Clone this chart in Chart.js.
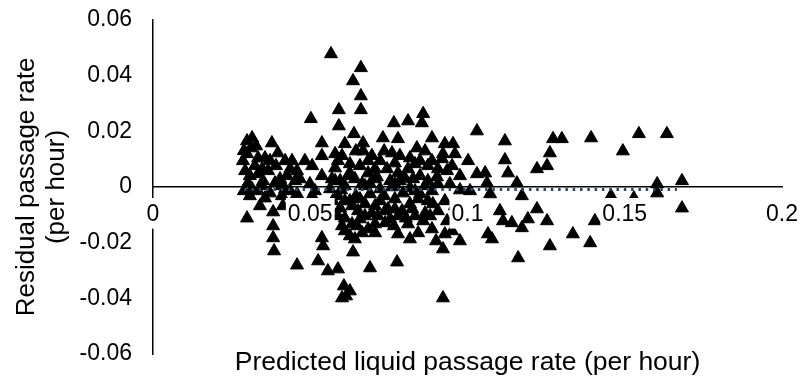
<!DOCTYPE html>
<html>
<head>
<meta charset="utf-8">
<script src="https://cdn.jsdelivr.net/npm/chart.js@4.4.1/dist/chart.umd.min.js"></script>
<style>
  html, body { margin: 0; padding: 0; background: #fff; }
  #wrap { width: 800px; height: 379px; position: relative; }
</style>
</head>
<body>
<div id="wrap"><canvas id="residChart"></canvas></div>
<script>
// Predicted liquid passage rate (per hour), one entry per observation
const predicted = [
    // upper middle
    0.0566, 0.0661, 0.0636, 0.0661, 0.0661, 0.0591, 0.0502, 0.0591, 0.0639, 0.0668,
    0.0668, 0.0766, 0.0811, 0.0859, 0.0855, 0.0731, 0.0779, 0.0839, 0.0887, 0.0928,
    0.0760, 0.0785, 0.0817, 0.0833, 0.0919, 0.0906, 0.0601, 0.0626, 0.0658, 0.0706,
    0.0579, 0.0744, 0.0811, 0.0801, 0.0849, 0.0874, 0.0754, 0.0706,
    // left cluster
    0.0315, 0.0299, 0.0378, 0.0537, 0.0299, 0.0334, 0.0356, 0.0397, 0.0537, 0.0579,
    0.0308, 0.0334, 0.0366, 0.0436, 0.0458, 0.0506, 0.0302, 0.0347, 0.0388, 0.0452,
    0.0499, 0.0579, 0.0324, 0.0404, 0.0286, 0.0420, 0.0436, 0.0289,
    0.0328, 0.0350, 0.0420, 0.0315, 0.0372, 0.0467, 0.0426, 0.0483,
    0.0289, 0.0312, 0.0347, 0.0391, 0.0442, 0.0334, 0.0372, 0.0293, 0.0410,
    // right, above zero
    0.1030, 0.0954, 0.0922, 0.0960, 0.1002, 0.1119, 0.1119, 0.1129, 0.1157, 0.1030,
    0.1056, 0.1062, 0.0935, 0.0976, 0.0944, 0.1272, 0.1300, 0.1262, 0.1253, 0.1221,
    0.1393, 0.1494, 0.1545, 0.1634, 0.1603, 0.1682, 0.0951,
    // right, below zero
    0.0928, 0.0935, 0.0928, 0.0922, 0.0976, 0.1065, 0.1078, 0.1072, 0.1103, 0.1113,
    0.1141, 0.1173, 0.1192, 0.1221, 0.1253, 0.1262, 0.1161, 0.1173, 0.1335, 0.1390,
    0.1405, 0.1456, 0.1529, 0.1603, 0.1682, 0.0922, 0.0960, 0.1008, 0.1501, 0.0976,
    0.0951, 0.0992,
    // left and lower middle, below zero
    0.0299, 0.0382, 0.0382, 0.0382, 0.0385, 0.0458, 0.0525, 0.0537, 0.0541, 0.0556,
    0.0588, 0.0607, 0.0614, 0.0626, 0.0601, 0.0636, 0.0690, 0.0776, 0.0610, 0.0706,
    0.0738, 0.0779, 0.0811, 0.0887, 0.0308, 0.0356, 0.0410, 0.0458, 0.0506, 0.0588,
    0.0340, 0.0413, 0.0467,
    // dense middle, below zero
    0.0572, 0.0595, 0.0626, 0.0652, 0.0674, 0.0696, 0.0722, 0.0747, 0.0769, 0.0792,
    0.0817, 0.0843, 0.0865, 0.0890, 0.0610, 0.0633, 0.0658, 0.0684, 0.0715, 0.0754,
    0.0779, 0.0833, 0.0859, 0.0881, 0.0588, 0.0642, 0.0665, 0.0843, 0.0817, 0.0900,
    0.0633, 0.0738, 0.0804, 0.0906, 0.0550, 0.0601, 0.0674, 0.0766, 0.0874, 0.0706,
    0.0610, 0.0658, 0.0706, 0.0769, 0.0824, 0.0649, 0.0626,
    // dense middle, around zero
    0.0610, 0.0642, 0.0674, 0.0722, 0.0769, 0.0817, 0.0865, 0.0906, 0.0626, 0.0684,
    0.0779, 0.0874, 0.0537, 0.0563, 0.0515, 0.0610, 0.0696, 0.0722, 0.0865, 0.0887,
    0.0569, 0.0598, 0.0620, 0.0645, 0.0665, 0.0690, 0.0712, 0.0735, 0.0760, 0.0795,
    0.0827, 0.0849, 0.0887, 0.0903, 0.0588, 0.0645, 0.0684, 0.0735, 0.0769, 0.0849,
    0.0595, 0.0690, 0.0785, 0.0833
];

// Residual passage rate (per hour), same order as predicted
const residual = [
    0.0478, 0.0428, 0.0381, 0.0327, 0.0277, 0.0277, 0.0245, 0.0219, 0.0191, 0.0158,
    0.0129, 0.0230, 0.0237, 0.0263, 0.0230, 0.0176, 0.0173, 0.0140, 0.0176, 0.0155,
    0.0122, 0.0112, 0.0104, 0.0083, 0.0101, 0.0065, 0.0112, 0.0083, 0.0076, 0.0065,
    0.0068, 0.0065, 0.0065, 0.0032, 0.0040, 0.0022, 0.0022, 0.0029,

    0.0176, 0.0165, 0.0158, 0.0158, 0.0119, 0.0104, 0.0104, 0.0122, 0.0112, 0.0119,
    0.0040, 0.0047, 0.0058, 0.0065, 0.0058, 0.0076, 0.0014, 0.0004, 0.0014, 0.0022,
    0.0011, 0.0022, 0.0076, 0.0029, 0.0094, 0.0094, -0.0014, -0.0014,
    0.0147, 0.0022, -0.0007, -0.0007, 0.0094, 0.0029, 0.0040, 0.0094,
    0.0130, 0.0140, 0.0065, 0.0076, 0.0094, -0.0014, -0.0022, 0.0058, 0.0004,

    0.0201, 0.0155, 0.0119, 0.0119, 0.0094, 0.0165, 0.0097, 0.0050, 0.0014, 0.0047,
    0.0050, 0.0014, 0.0058, 0.0040, 0.0011, 0.0173, 0.0173, 0.0122, 0.0076, 0.0065,
    0.0176, 0.0129, 0.0191, 0.0191, 0.0011, 0.0022, 0.0076,

    -0.0050, -0.0122, -0.0169, -0.0223, -0.0194, -0.0169, -0.0187, -0.0025, -0.0086, -0.0122,
    -0.0129, -0.0147, -0.0115, -0.0079, -0.0122, -0.0212, -0.0255, -0.0032, -0.0169, -0.0201,
    -0.0122, -0.0032, -0.0040, -0.0022, -0.0076, -0.0399, -0.0068, -0.0014, -0.0126, -0.0011,
    -0.0158, -0.0104,

    -0.0112, -0.0090, -0.0140, -0.0183, -0.0230, -0.0281, -0.0266, -0.0183, -0.0212, -0.0302,
    -0.0295, -0.0356, -0.0392, -0.0374, -0.0399, -0.0234, -0.0291, -0.0270, -0.0158, -0.0133,
    -0.0129, -0.0169, -0.0133, -0.0151, -0.0032, -0.0040, -0.0032, -0.0025, -0.0032, -0.0032,
    -0.0068, -0.0068, -0.0086,

    -0.0050, -0.0076, -0.0050, -0.0086, -0.0061, -0.0094, -0.0050, -0.0079, -0.0043, -0.0086,
    -0.0061, -0.0043, -0.0094, -0.0061, -0.0112, -0.0133, -0.0115, -0.0151, -0.0104, -0.0115,
    -0.0104, -0.0104, -0.0122, -0.0104, -0.0104, -0.0187, -0.0165, -0.0165, -0.0187, -0.0194,
    -0.0068, -0.0086, -0.0112, -0.0086, -0.0076, -0.0140, -0.0104, -0.0140, -0.0050, -0.0165,
    -0.0050, -0.0043, -0.0068, -0.0079, -0.0079, -0.0140, -0.0176,

    0.0004, 0.0029, 0.0004, -0.0007, 0.0011, -0.0004, 0.0004, 0.0011, 0.0050, 0.0050,
    0.0050, 0.0076, 0.0040, -0.0007, -0.0014, 0.0155, 0.0112, 0.0094, 0.0129, 0.0094,
    0.0029, -0.0011, 0.0040, -0.0032, 0.0011, -0.0025, 0.0036, -0.0032, 0.0000, -0.0022,
    0.0029, -0.0025, -0.0014, 0.0036, 0.0094, 0.0129, 0.0094, 0.0129, 0.0086, 0.0094,
    0.0022, 0.0011, 0.0022, -0.0014
];

// Fitted trend through the residuals (nearly flat)
const trendX = [0.029, 0.1666];
const trendY = [-0.0009, -0.0009];

// Axis tick labels, low to high
const xTickLabels = ['0', '0.05', '0.1', '0.15', '0.2'];
const yTickLabels = ['-0.06', '-0.04', '-0.02', '0', '0.02', '0.04', '0.06'];

const FONT = "'Liberation Sans', Arial, sans-serif";

const points = predicted.map((x, i) => ({ x: x, y: residual[i] }));
const trend = trendX.map((x, i) => ({ x: x, y: trendY[i] }));

const ctx = document.getElementById('residChart').getContext('2d');

const residChart = new Chart(ctx, {
    type: 'scatter',
    data: {
        datasets: [
            {
                // dotted trend line, drawn on top of the markers
                type: 'line',
                label: 'Trend',
                data: trend,
                borderColor: '#34465f',
                borderWidth: 2.8,
                borderDash: [2.5, 4.8],
                borderCapStyle: 'butt',
                pointRadius: 0,
                fill: false,
                order: 0
            },
            {
                label: 'Residual',
                data: points,
                pointStyle: 'triangle',
                pointRadius: 7.5,
                pointBackgroundColor: '#000',
                pointBorderColor: '#000',
                pointBorderWidth: 1,
                order: 1
            }
        ]
    },
    options: {
        responsive: true,
        maintainAspectRatio: false,
        animation: false,
        layout: { autoPadding: false, padding: { left: 0, right: 18, top: 20, bottom: 0 } },
        plugins: {
            legend: { display: false },
            tooltip: { enabled: false }
        },
        scales: {
            // bottom axis only carries the title
            x: {
                type: 'linear',
                position: 'bottom',
                min: 0,
                max: 0.2,
                grid: { display: false },
                border: { display: false },
                ticks: { display: false },
                title: {
                    display: true,
                    text: 'Predicted liquid passage rate (per hour)',
                    color: '#000',
                    font: { family: FONT, size: 26.5 },
                    padding: { top: 0, bottom: 0 }
                },
                afterFit: (scale) => {
                    scale.height = 25;
                    scale.paddingLeft = scale.paddingRight = 0;
                }
            },
            // axis line and labels sitting on y = 0
            xZero: {
                type: 'linear',
                axis: 'x',
                position: { y: 0 },
                min: 0,
                max: 0.2,
                grid: { display: false, drawTicks: false },
                border: { display: true, color: '#000', width: 1.5 },
                ticks: {
                    stepSize: 0.05,
                    padding: 14,
                    color: '#000',
                    font: { family: FONT, size: 23 },
                    maxRotation: 0,
                    autoSkip: false,
                    showLabelBackdrop: true,
                    backdropColor: '#fff',
                    backdropPadding: { top: 3, bottom: 0, left: 2, right: 2 },
                    z: 1,
                    callback: (value, index) => xTickLabels[index]
                },
                afterFit: (scale) => {
                    scale.paddingLeft = scale.paddingRight = 0;
                }
            },
            y: {
                type: 'linear',
                position: 'left',
                min: -0.06,
                max: 0.06,
                grid: { display: false, drawTicks: false },
                border: { display: true, color: '#000', width: 1.5 },
                ticks: {
                    stepSize: 0.02,
                    padding: 21,
                    color: '#000',
                    font: { family: FONT, size: 23 },
                    callback: (value, index) => yTickLabels[index]
                },
                title: {
                    display: true,
                    text: ['Residual passage rate', '(per hour)'],
                    color: '#000',
                    font: { family: FONT, size: 26, lineHeight: 1.15 },
                    padding: { top: 12, bottom: 0 }
                },
                afterFit: (scale) => {
                    scale.width = 153;
                    scale.paddingTop = scale.paddingBottom = 0;
                }
            }
        }
    }
});
</script>
</body>
</html>
